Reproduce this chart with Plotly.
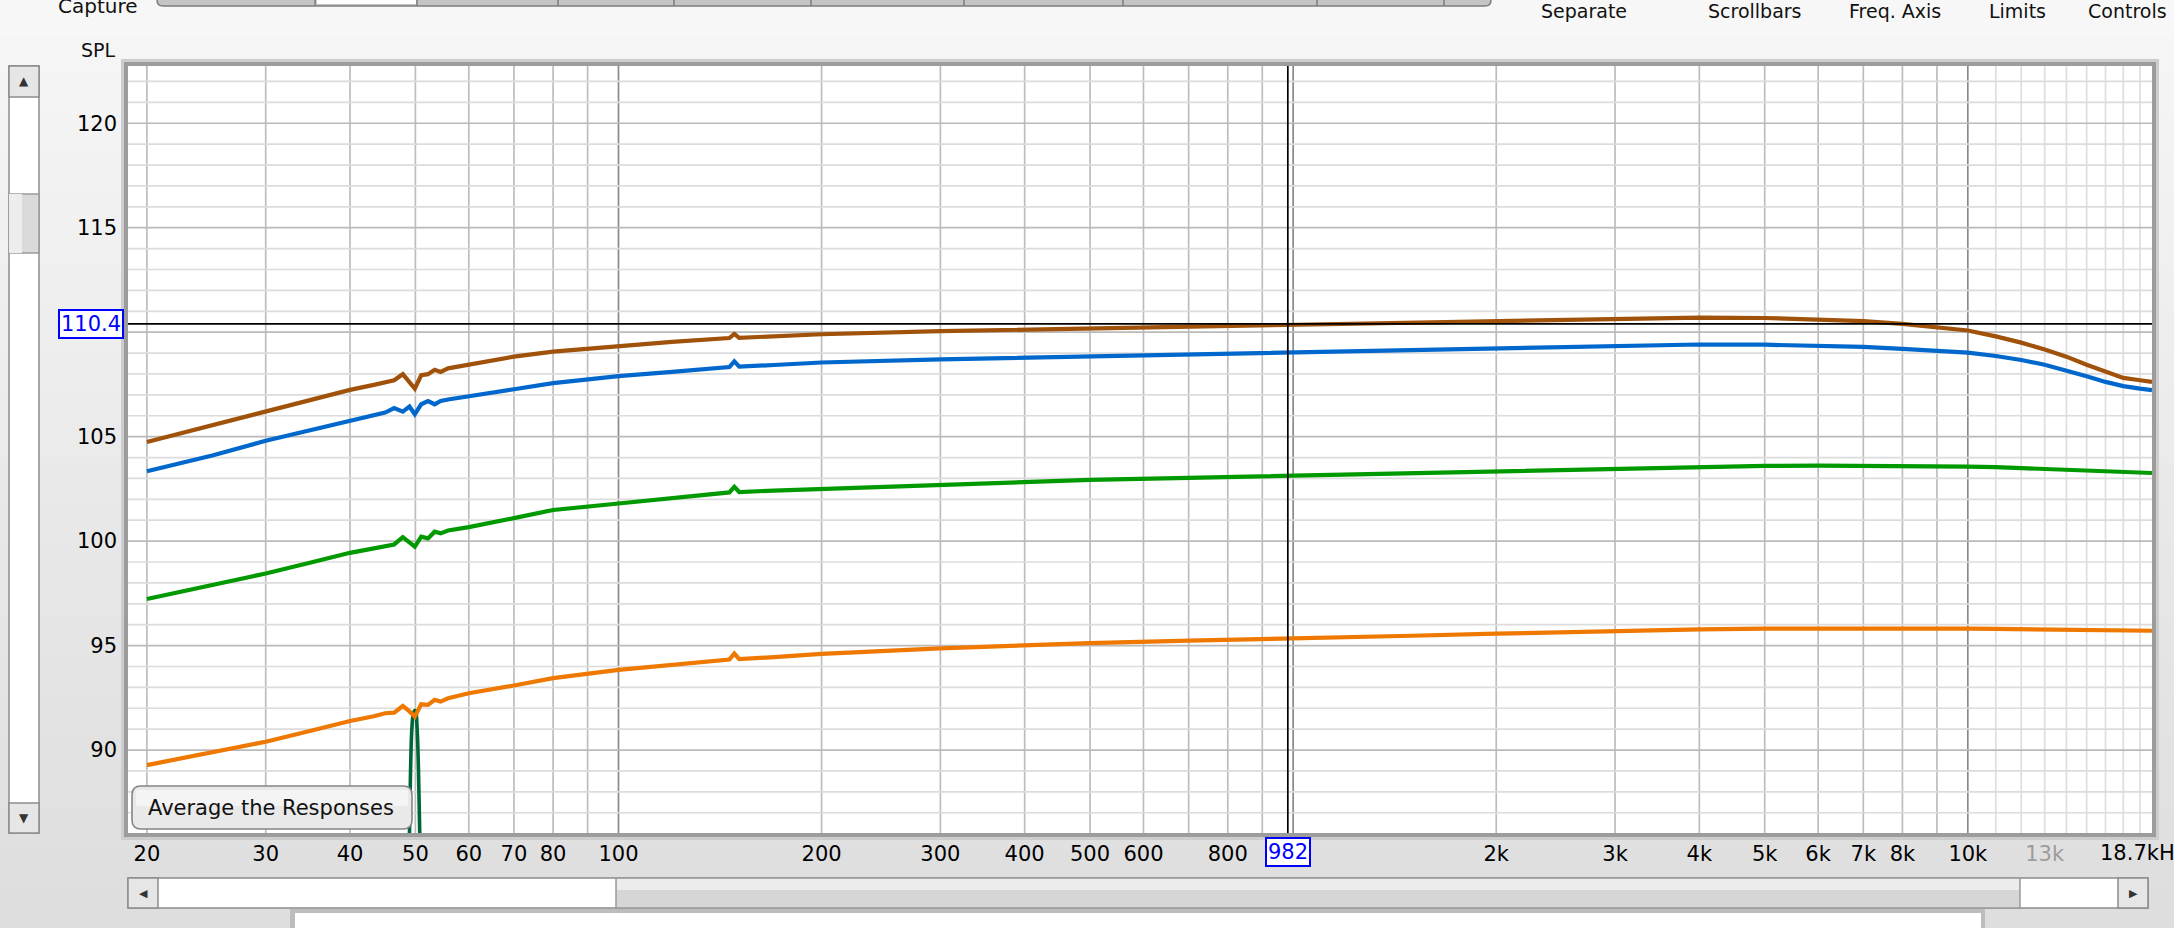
import math
import plotly.graph_objects as go

W, H = 2174, 928
PL, PR, PT, PB = 128, 2152, 66, 833  # plot area in pixels

# ---- values (Hz / dB SPL)
freq = [20, 25, 30, 35, 40, 43.4, 45.1, 46.5, 47.9, 49.0,
        49.9, 51.0, 52.2, 53.4, 54.5, 55.9, 60, 70, 80, 100,
        120, 146, 148.5, 151, 170, 200, 300, 400, 500, 700,
        982, 1500, 2000, 3000, 4000, 5000, 6000, 7000, 8000, 9000,
        10000, 11000, 12000, 13000, 14000, 15000, 16000, 17000, 18000, 18750]

spl_brown = [104.74, 105.56, 106.23, 106.77, 107.24, 107.48, 107.62, 107.7, 107.99, 107.62,
             107.3, 107.94, 107.99, 108.2, 108.1, 108.27, 108.45, 108.83, 109.07, 109.35,
             109.54, 109.72, 109.92, 109.73, 109.82, 109.9, 110.05, 110.12, 110.2, 110.3,
             110.38, 110.47, 110.53, 110.65, 110.7, 110.68, 110.62, 110.53, 110.4, 110.25,
             110.08, 109.8, 109.5, 109.17, 108.83, 108.44, 108.13, 107.81, 107.7, 107.62]

spl_blue = [103.34, 104.1, 104.8, 105.31, 105.75, 106.0, 106.15, 106.37, 106.2, 106.44,
            106.07, 106.55, 106.7, 106.55, 106.71, 106.78, 106.92, 107.27, 107.56, 107.9,
            108.1, 108.33, 108.6, 108.35, 108.43, 108.55, 108.7, 108.78, 108.84, 108.94,
            109.04, 109.16, 109.24, 109.36, 109.41, 109.4, 109.36, 109.3, 109.2, 109.12,
            109.02, 108.86, 108.67, 108.44, 108.17, 107.89, 107.62, 107.42, 107.3, 107.23]

spl_green = [97.23, 97.9, 98.45, 98.98, 99.44, 99.65, 99.76, 99.84, 100.19, 99.95,
             99.73, 100.21, 100.13, 100.45, 100.37, 100.51, 100.67, 101.1, 101.49, 101.8,
             102.05, 102.33, 102.6, 102.35, 102.42, 102.5, 102.72, 102.85, 102.93, 103.03,
             103.13, 103.27, 103.35, 103.49, 103.57, 103.6, 103.61, 103.61, 103.6, 103.59,
             103.57, 103.54, 103.5, 103.47, 103.44, 103.4, 103.37, 103.32, 103.29, 103.26]

spl_orange = [89.28, 89.9, 90.4, 90.92, 91.39, 91.62, 91.76, 91.79, 92.11, 91.85,
              91.6, 92.19, 92.16, 92.4, 92.32, 92.48, 92.72, 93.09, 93.44, 93.84,
              94.08, 94.33, 94.62, 94.35, 94.45, 94.6, 94.87, 95.03, 95.12, 95.24,
              95.33, 95.47, 95.57, 95.7, 95.78, 95.81, 95.82, 95.83, 95.82, 95.82,
              95.81, 95.8, 95.79, 95.77, 95.76, 95.75, 95.74, 95.73, 95.72, 95.71]

notch_freq = [48.5, 49.0, 49.4, 49.7, 50.0, 50.3, 50.75, 51.3]
notch_spl = [78.0, 86.0, 91.0, 91.8, 91.9, 91.0, 86.0, 78.0]

cursor_freq = 982
cursor_spl = 110.4

x_range = [18.75, 18750]
y_range = [86.03, 122.74]

xtick_vals = [20, 30, 40, 50, 60, 70, 80, 100, 200, 300, 400, 500, 600, 800,
              2000, 3000, 4000, 5000, 6000, 7000, 8000, 10000, 13000]
xtick_text = ['20', '30', '40', '50', '60', '70', '80', '100', '200', '300', '400', '500', '600', '800',
              '2k', '3k', '4k', '5k', '6k', '7k', '8k', '10k',
              "<span style='color:#9c9c9c'>13k</span>"]
x_end_label = '18.7kHz'
ytick_vals = [90, 95, 100, 105, 115, 120]

grid_minor_x = [20, 30, 40, 50, 60, 70, 80, 90, 200, 300, 400, 500, 600, 700, 800, 900,
                2000, 3000, 4000, 5000, 6000, 7000, 8000, 9000]
grid_decade_x = [100, 1000, 10000]
grid_high_x = [11000, 12000, 13000, 14000, 15000, 16000, 17000, 18000]
grid_minor_y = [v for v in range(87, 123) if v % 5]
grid_major_y = [90, 95, 100, 105, 110, 115, 120]

FONT = "DejaVu Sans"


def px(x):
    return (x - PL) / (PR - PL)


def py(y):
    return (PB - y) / (PB - PT)


def vlines(xs):
    xx, yy = [], []
    for v in xs:
        xx += [v, v, None]
        yy += [y_range[0], y_range[1], None]
    return xx, yy


def hlines(ys):
    xx, yy = [], []
    for v in ys:
        xx += [x_range[0], x_range[1], None]
        yy += [v, v, None]
    return xx, yy


def rect(x0, y0, x1, y1, fill, line='rgba(0,0,0,0)', lw=0, layer='above'):
    return dict(type='rect', xref='paper', yref='paper', x0=px(x0), x1=px(x1), y0=py(y1), y1=py(y0),
                fillcolor=fill, line=dict(color=line, width=lw), layer=layer)


def rrect(x0, y0, x1, y1, r, fill, line, lw=1.5):
    p = (f"M {px(x0 + r)},{py(y0)} L {px(x1 - r)},{py(y0)} Q {px(x1)},{py(y0)} {px(x1)},{py(y0 + r)} "
         f"L {px(x1)},{py(y1 - r)} Q {px(x1)},{py(y1)} {px(x1 - r)},{py(y1)} "
         f"L {px(x0 + r)},{py(y1)} Q {px(x0)},{py(y1)} {px(x0)},{py(y1 - r)} "
         f"L {px(x0)},{py(y0 + r)} Q {px(x0)},{py(y0)} {px(x0 + r)},{py(y0)} Z")
    return dict(type='path', xref='paper', yref='paper', path=p, fillcolor=fill,
                line=dict(color=line, width=lw), layer='above')


def text(x, y, s, size=19, color='#111', xanchor='center', **kw):
    return dict(xref='paper', yref='paper', x=px(x), y=py(y), text=s, showarrow=False,
                xanchor=xanchor, yanchor='middle', font=dict(family=FONT, size=size, color=color), **kw)


fig = go.Figure()

# grid
for xs, col in [(grid_high_x, '#dedede'), (grid_minor_x, '#bdbdbd'), (grid_decade_x, '#8a8a8a')]:
    gx, gy = vlines(xs)
    fig.add_trace(go.Scatter(x=gx, y=gy, mode='lines', line=dict(color=col, width=1.7),
                             hoverinfo='skip', showlegend=False))
for ys, col in [(grid_minor_y, '#dcdcdc'), (grid_major_y, '#bababa')]:
    gx, gy = hlines(ys)
    fig.add_trace(go.Scatter(x=gx, y=gy, mode='lines', line=dict(color=col, width=1.7),
                             hoverinfo='skip', showlegend=False))

# responses
fig.add_trace(go.Scatter(x=notch_freq, y=notch_spl, mode='lines', line=dict(color='#00663a', width=3.6),
                         line_shape='spline', showlegend=False))
for vals, col in [(spl_orange, '#ee7800'), (spl_green, '#009a00'), (spl_blue, '#0068cc'), (spl_brown, '#a0520a')]:
    fig.add_trace(go.Scatter(x=freq, y=vals, mode='lines', line=dict(color=col, width=4.2), showlegend=False))

# cursor
fig.add_trace(go.Scatter(x=[x_range[0], x_range[1], None, cursor_freq, cursor_freq],
                         y=[cursor_spl, cursor_spl, None, y_range[0], y_range[1]],
                         mode='lines', line=dict(color='black', width=1.7), showlegend=False))

shapes = []
# window background, light at the top, darker towards the bottom
nb = 24
for i in range(nb):
    c = int(247 - (247 - 222) * i / (nb - 1))
    shapes.append(rect(-2, H * i / nb - 1, W + 2, H * (i + 1) / nb + 1, f'rgb({c},{c},{c})', layer='below'))
shapes.append(rect(PL, PT, PR, PB, 'white', layer='below'))
# plot frame
shapes.append(rect(PL - 5.5, PT - 5.5, PR + 5.5, PB + 5.5, 'rgba(0,0,0,0)', '#cdcdcd', 3))
shapes.append(rect(PL - 2, PT - 2, PR + 2, PB + 2, 'rgba(0,0,0,0)', '#9c9c9c', 4))

# top tab strip
shapes.append(rrect(157, -12, 1491, 6, 6, '#c4c4c4', '#7c7c7c', 1.5))
shapes.append(rect(317, -12, 416, 4, 'white'))
for d in [315, 417, 558, 674, 811, 964, 1123, 1317, 1444]:
    shapes.append(dict(type='line', xref='paper', yref='paper', x0=px(d), x1=px(d), y0=py(-5), y1=py(6),
                       line=dict(color='#7c7c7c', width=1.5)))

# left vertical scrollbar
shapes.append(rect(9, 66, 39, 833, 'white', '#8c8c8c', 1.5))
shapes.append(rect(9, 66, 39, 97, '#e6e6e6', '#8c8c8c', 1.5))
shapes.append(rect(9, 194, 39, 253, '#dadada', '#9a9a9a', 1.5))
shapes.append(rect(9, 194, 22, 253, '#ededed'))
shapes.append(rect(9, 803, 39, 833, '#e6e6e6', '#8c8c8c', 1.5))

# bottom horizontal scrollbar
shapes.append(rect(128, 878, 2148, 908, 'white', '#8c8c8c', 1.5))
shapes.append(rect(128, 878, 158, 908, '#e6e6e6', '#8c8c8c', 1.5))
shapes.append(rect(616, 878, 2020, 908, '#d6d6d6', '#9a9a9a', 1.5))
shapes.append(rect(617, 879, 2019, 890, '#ececec'))
shapes.append(rect(2118, 878, 2148, 908, '#e6e6e6', '#8c8c8c', 1.5))

# panel below
shapes.append(rect(290, 909, 1985, 940, '#bdbdbd'))
shapes.append(rect(295, 913, 1981, 940, 'white'))

# "Average the Responses" button
shapes.append(rrect(132, 786, 412, 829, 9, '#e9e9e9', '#858585', 1.6))
shapes.append(rect(136, 790, 408, 806, '#f4f4f4'))

annotations = [
    text(98, 50, 'SPL', size=19),
    text(56, 6, 'Capture', size=20, xanchor='left'),
    text(1584, 11, 'Separate', size=19),
    text(1755, 11, 'Scrollbars', size=19),
    text(1895, 11, 'Freq. Axis', size=19),
    text(2017, 11, 'Limits', size=19),
    text(2086, 11, 'Controls', size=19, xanchor='left'),
    text(271, 808, 'Average the Responses', size=21),
    text(24, 81, '▲', size=12, color='#333'),
    text(24, 818, '▼', size=12, color='#333'),
    text(143, 893, '◀', size=11, color='#333'),
    text(2133, 893, '▶', size=11, color='#333'),
    # right-hand end of the frequency axis
    dict(xref='x', yref='paper', x=math.log10(x_range[1]), y=0, yshift=-6, xshift=-54, text=x_end_label,
         showarrow=False, xanchor='left', yanchor='top', font=dict(family=FONT, size=21, color='black')),
    # cursor read-outs
    dict(xref='paper', yref='y', x=px(124), y=cursor_spl, text=f'{cursor_spl}', showarrow=False,
         xanchor='right', yanchor='middle', font=dict(family=FONT, size=21, color='#0000ff'),
         bgcolor='white', bordercolor='#0000ff', borderwidth=2, borderpad=1),
    dict(xref='x', yref='paper', x=math.log10(cursor_freq), y=0, yshift=-4, text=f'{cursor_freq}',
         showarrow=False, xanchor='center', yanchor='top', font=dict(family=FONT, size=21, color='#0000ff'),
         bgcolor='white', bordercolor='#0000ff', borderwidth=2, borderpad=1),
]

fig.update_layout(
    width=W, height=H, autosize=False,
    margin=dict(l=PL, r=W - PR, t=PT, b=H - PB, pad=0),
    paper_bgcolor='#ebebeb', plot_bgcolor='rgba(0,0,0,0)',
    font=dict(family=FONT, size=21, color='black'),
    showlegend=False,
    xaxis=dict(type='log', range=[math.log10(x_range[0]), math.log10(x_range[1])],
               showgrid=False, zeroline=False, showline=False, ticks='',
               tickvals=xtick_vals, ticktext=xtick_text, tickangle=0,
               tickfont=dict(family=FONT, size=21, color='black'), ticklabelstandoff=6),
    yaxis=dict(range=y_range, showgrid=False, zeroline=False, showline=False, ticks='',
               tickvals=ytick_vals, ticktext=[str(v) for v in ytick_vals],
               tickfont=dict(family=FONT, size=21, color='black'), ticklabelstandoff=10),
    shapes=shapes,
    annotations=annotations,
)

fig.write_html("out.html", config={'displayModeBar': False},
               post_script="document.body.style.margin='0px';")
